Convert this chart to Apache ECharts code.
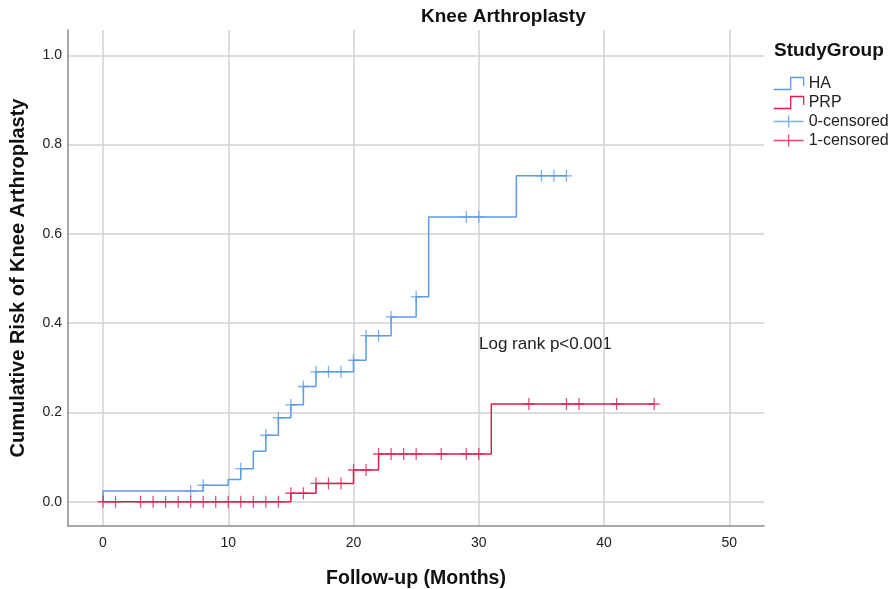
<!DOCTYPE html>
<html><head><meta charset="utf-8">
<script src="https://cdn.jsdelivr.net/npm/echarts@6/dist/echarts.min.js"></script>
<style>html,body{margin:0;padding:0;background:#fff}#c{width:891px;height:589px}</style>
</head><body><div id="c"></div>
<script>
// ---- data ----
const haTimes  = [0, 0, 8, 10, 11, 12, 13, 14, 15, 16, 17, 20, 21, 23, 25, 26, 33, 37];
const haRisk   = [0, 0.024, 0.037, 0.050, 0.074, 0.113, 0.149, 0.188, 0.217, 0.258, 0.291, 0.317, 0.372, 0.414, 0.459, 0.638, 0.730, 0.730];
const prpTimes = [0, 15, 17, 20, 22, 31, 44];
const prpRisk  = [0, 0.019, 0.041, 0.071, 0.107, 0.219, 0.219];
const haCensoredTimes  = [7, 8, 11, 13, 14, 15, 16, 17, 18, 19, 20, 21, 22, 23, 25, 29, 30, 35, 36, 37];
const prpCensoredTimes = [0, 1, 3, 4, 5, 6, 7, 8, 9, 10, 11, 12, 13, 14, 15, 16, 17, 18, 19, 20, 21, 22, 23, 24, 25, 27, 29, 30, 34, 37, 38, 41, 44];
const xTickLabels = [0, 10, 20, 30, 40, 50];
const yTickLabels = [0.0, 0.2, 0.4, 0.6, 0.8, 1.0];
const seriesNames = ['HA', 'PRP', '0-censored', '1-censored'];

const BLUE = '#5b9be6';
const RED = '#dc1f4e';
const FONT = '"Liberation Sans", Arial, sans-serif';

function stepValue(times, risks, t) {
  let v = risks[0];
  for (let i = 0; i < times.length; i++) { if (times[i] <= t) v = risks[i]; }
  return v;
}
const haLine = haTimes.map((t, i) => [t, haRisk[i]]);
const prpLine = prpTimes.map((t, i) => [t, prpRisk[i]]);
const haCens = haCensoredTimes.map(t => [t, stepValue(haTimes, haRisk, t)]);
const prpCens = prpCensoredTimes.map(t => [t, stepValue(prpTimes, prpRisk, t)]);

const stepIcon = 'path://M0,10L17,10L17,0L30,0L30,7';
const plusIcon = 'path://M0,6L30,6M15,0L15,12';
const plusSymbol = 'path://M5,0L5,12M0,6L10,6';

function near(v, list, eps) { return list.some(x => Math.abs(x - v) < eps); }

const chart = echarts.init(document.getElementById('c'), null, {renderer: 'canvas'});
chart.setOption({
  animation: false,
  backgroundColor: '#fff',
  grid: {left: 68, right: 127, top: 30, bottom: 63, containLabel: false, outerBoundsMode: 'none'},
  xAxis: {
    type: 'value', min: -2.794, max: 52.77, splitNumber: 5,
    name: 'Follow-up (Months)', nameLocation: 'middle', nameGap: 43,
    nameTextStyle: {fontFamily: FONT, fontSize: 19.5, fontWeight: 'bold', color: '#111'},
    axisLine: {show: true, onZero: false, lineStyle: {color: '#8a8a8a', width: 1.5}},
    axisTick: {show: false},
    axisLabel: {
      fontFamily: FONT, fontSize: 14, color: '#222', margin: 10,
      showMinLabel: false, showMaxLabel: false,
      formatter: v => near(v, xTickLabels, 1e-6) ? String(Math.round(v)) : ''
    },
    splitLine: {show: true, showMinLine: false, showMaxLine: false, lineStyle: {color: '#d2d2d2', width: 1.5}}
  },
  yAxis: {
    type: 'value', min: -0.0544, max: 1.0567, splitNumber: 5,
    name: 'Cumulative Risk of Knee Arthroplasty', nameLocation: 'middle', nameGap: 40,
    nameTextStyle: {fontFamily: FONT, fontSize: 20, fontWeight: 'bold', color: '#111'},
    axisLine: {show: true, onZero: false, lineStyle: {color: '#8a8a8a', width: 1.5}},
    axisTick: {show: false},
    axisLabel: {
      fontFamily: FONT, fontSize: 14, color: '#222', margin: 6,
      showMinLabel: false, showMaxLabel: false,
      formatter: v => near(v, yTickLabels, 1e-6) ? v.toFixed(1) : ''
    },
    splitLine: {show: true, showMinLine: false, showMaxLine: false, lineStyle: {color: '#d2d2d2', width: 1.5}}
  },
  legend: {
    orient: 'vertical', left: 773, top: 75.5, padding: 0, itemWidth: 30, itemHeight: 12, itemGap: 3,
    symbolKeepAspect: false,
    textStyle: {fontFamily: FONT, fontSize: 16, color: '#222'},
    data: [
      {name: seriesNames[0], icon: stepIcon, itemStyle: {color: 'transparent', borderColor: BLUE, borderWidth: 1.3}},
      {name: seriesNames[1], icon: stepIcon, itemStyle: {color: 'transparent', borderColor: RED, borderWidth: 1.3}},
      {name: seriesNames[2], icon: plusIcon, itemStyle: {color: 'transparent', borderColor: BLUE, borderWidth: 1.3}},
      {name: seriesNames[3], icon: plusIcon, itemStyle: {color: 'transparent', borderColor: RED, borderWidth: 1.3}}
    ]
  },
  graphic: [
    {type: 'text', left: 421, top: 7, style: {text: 'Knee Arthroplasty', font: 'bold 19px ' + FONT, fill: '#111'}},
    {type: 'text', left: 774, top: 41, style: {text: 'StudyGroup', font: 'bold 19px ' + FONT, fill: '#111'}},
    {type: 'text', left: 479, top: 336, style: {text: 'Log rank p<0.001', font: '17px ' + FONT, fill: '#222'}}
  ],
  series: [
    {name: seriesNames[0], type: 'line', step: 'end', data: haLine, showSymbol: false, symbol: 'none',
     lineStyle: {color: BLUE, width: 1.5}, itemStyle: {color: BLUE}, z: 3},
    {name: seriesNames[1], type: 'line', step: 'end', data: prpLine, showSymbol: false, symbol: 'none',
     lineStyle: {color: RED, width: 1.5}, itemStyle: {color: RED}, z: 3},
    {name: seriesNames[2], type: 'scatter', data: haCens, symbol: plusSymbol, symbolSize: [11, 12],
     itemStyle: {color: 'transparent', borderColor: BLUE, borderWidth: 1.3}, z: 4},
    {name: seriesNames[3], type: 'scatter', data: prpCens, symbol: plusSymbol, symbolSize: [11, 12],
     itemStyle: {color: 'transparent', borderColor: RED, borderWidth: 1.3}, z: 4}
  ]
});
</script></body></html>
